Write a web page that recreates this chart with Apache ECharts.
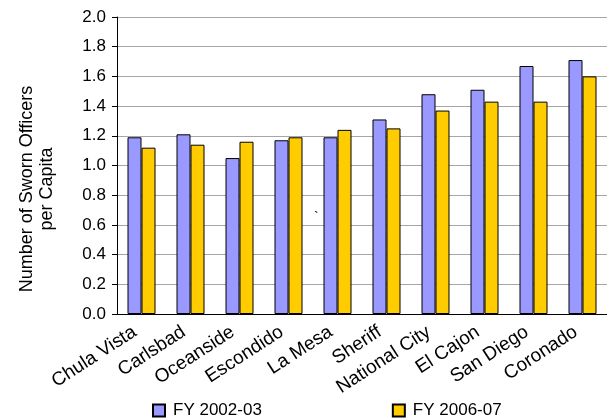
<!DOCTYPE html>
<html>
<head>
<meta charset="utf-8">
<script src="https://cdn.jsdelivr.net/npm/echarts@6/dist/echarts.min.js"></script>
<style>
  html, body { margin: 0; padding: 0; background: #fff; }
  #chart { width: 607px; height: 419px; }
</style>
</head>
<body>
<div id="chart"></div>
<script>
// Sworn officers per capita by jurisdiction, two fiscal years
const agencies = ['Chula Vista', 'Carlsbad', 'Oceanside', 'Escondido', 'La Mesa',
                  'Sheriff', 'National City', 'El Cajon', 'San Diego', 'Coronado'];
const fy0203 = [1.19, 1.21, 1.05, 1.17, 1.19, 1.31, 1.48, 1.51, 1.67, 1.71];
const fy0607 = [1.12, 1.14, 1.16, 1.19, 1.24, 1.25, 1.37, 1.43, 1.43, 1.60];
const yTicks = ['0.0', '0.2', '0.4', '0.6', '0.8', '1.0', '1.2', '1.4', '1.6', '1.8', '2.0'];

const FONT = '"Liberation Sans", Arial, sans-serif';

const chart = echarts.init(document.getElementById('chart'), null, { renderer: 'canvas' });

chart.setOption({
  animation: false,
  backgroundColor: '#ffffff',
  textStyle: { fontFamily: FONT, color: '#000' },
  grid: { left: 117, right: 0, top: 17, bottom: 105, containLabel: false },
  legend: {
    left: 147,
    top: 397,
    itemWidth: 12,
    itemHeight: 12,
    itemGap: 130,
    icon: 'rect',
    textStyle: { fontFamily: FONT, fontSize: 17, color: '#000', padding: [0, 0, 0, 3] },
    data: ['FY 2002-03', 'FY 2006-07']
  },
  xAxis: {
    type: 'category',
    data: agencies,
    axisLine: { lineStyle: { color: '#000', width: 1 } },
    axisTick: { show: false },
    axisLabel: {
      interval: 0,
      rotate: 33,
      margin: 12,
      padding: [0, 8, 0, 0],
      fontFamily: FONT,
      fontSize: 19,
      color: '#000'
    }
  },
  yAxis: {
    type: 'value',
    min: 0,
    max: 2,
    interval: 0.2,
    axisLine: { show: true, lineStyle: { color: '#000', width: 1 } },
    axisTick: { show: true, inside: false, length: 5, lineStyle: { color: '#000' } },
    axisLabel: {
      margin: 11,
      fontFamily: FONT,
      fontSize: 17,
      color: '#000',
      formatter: (v) => yTicks[Math.round(v / 0.2)]
    },
    splitLine: { lineStyle: { color: '#a6a6a6', width: 1 } }
  },
  graphic: [
    {
      type: 'text',
      x: 37,
      y: 189,
      rotation: Math.PI / 2,
      style: {
        text: 'Number of Sworn Officers\nper Capita',
        font: '18px ' + FONT,
        fill: '#000',
        align: 'center',
        verticalAlign: 'middle',
        lineHeight: 20
      }
    },
    {
      type: 'text',
      x: 314,
      y: 211,
      style: { text: '`', font: '14px ' + FONT, fill: '#000' }
    }
  ],
  series: [
    {
      name: 'FY 2002-03',
      type: 'bar',
      data: fy0203,
      barWidth: 14,
      barGap: '0%',
      itemStyle: { color: '#9999ff', borderColor: '#000', borderWidth: 1 }
    },
    {
      name: 'FY 2006-07',
      type: 'bar',
      data: fy0607,
      barWidth: 14,
      barGap: '0%',
      itemStyle: { color: '#ffcc00', borderColor: '#000', borderWidth: 1 }
    }
  ]
});
</script>
</body>
</html>
